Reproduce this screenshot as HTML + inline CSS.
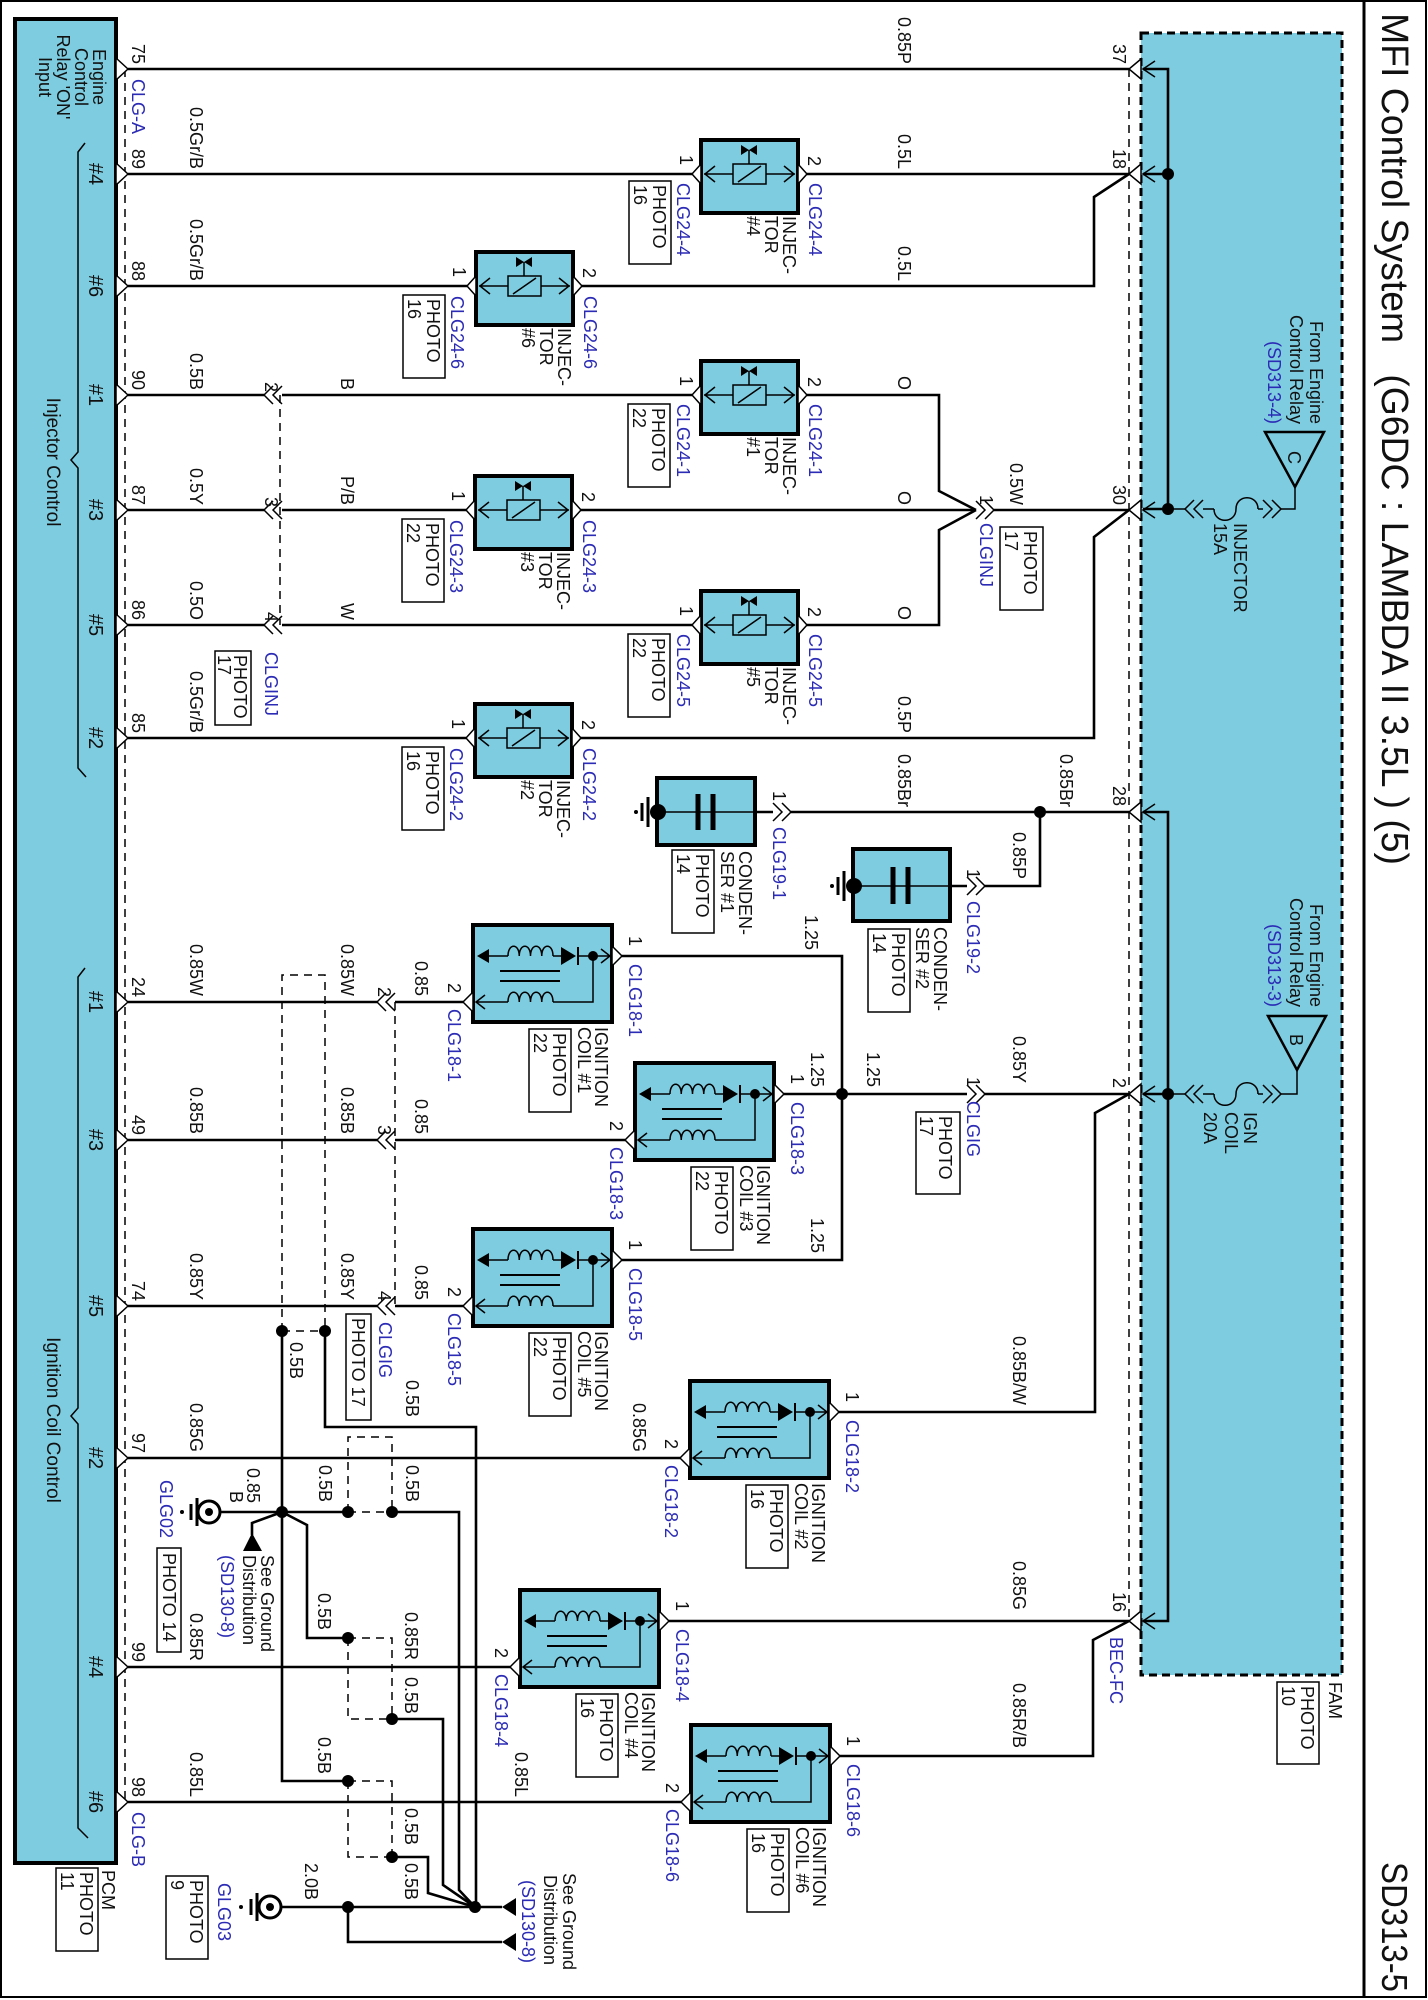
<!DOCTYPE html>
<html><head><meta charset="utf-8">
<style>
html,body{margin:0;padding:0;background:#fff;}
svg{display:block;}
text{font-family:"Liberation Sans",Arial,sans-serif;font-size:18px;fill:#111;}
.b{fill:#2b2bb5;}
.w{fill:none;stroke:#000;stroke-width:2.6;}
.t{fill:none;stroke:#000;stroke-width:1.5;}
.d{fill:none;stroke:#000;stroke-width:1.5;stroke-dasharray:8 6;}
.pin{fill:#fff;stroke:#000;stroke-width:1.5;}
.bx{fill:#fff;stroke:#000;stroke-width:1.5;}
</style></head><body>
<svg width="1428" height="2000" viewBox="0 0 1428 2000" xmlns="http://www.w3.org/2000/svg">
<defs>
<g id="inj">
<rect x="0" y="0" width="97" height="73" fill="#7ecce0" stroke="#000" stroke-width="4"/>
<polygon class="pin" points="0,24 -9,34 0,44"/>
<polygon class="pin" points="97,24 106,34 97,44"/>
<path class="t" d="M3,34H32M65,34H94M14,26L4,34L14,42M83,26L93,34L83,42"/>
<rect x="32" y="24" width="33" height="20" fill="none" stroke="#000" stroke-width="1.5"/>
<path class="t" d="M37,42L60,26M48,24V10"/>
<polygon points="40,5 48,10 40,15" fill="#000"/><polygon points="56,5 48,10 56,15" fill="#000"/>
</g>
<g id="coil">
<rect x="0" y="0" width="139" height="97" fill="#7ecce0" stroke="#000" stroke-width="4"/>
<polygon class="pin" points="0,67 -10,77 0,87"/>
<polygon class="pin" points="139,21 149,31 139,41"/>
<path class="t" d="M12,31H35M80,31H88M105,31H137M120,31V77H80M35,77H3M128,24L137,31L128,38M12,70L3,77L12,84"/>
<path class="t" d="M35,31c0-13 11.25-13 11.25,0c0-13 11.25-13 11.25,0c0-13 11.25-13 11.25,0c0-13 11.25-13 11.25,0"/>
<path class="t" d="M35,77c0-13 11.25-13 11.25,0c0-13 11.25-13 11.25,0c0-13 11.25-13 11.25,0c0-13 11.25-13 11.25,0"/>
<polygon points="4,31 16,24 16,38" fill="#000"/>
<polygon points="88,22 88,40 103,31" fill="#000"/>
<path d="M105,22V40" stroke="#000" stroke-width="2"/>
<circle cx="120" cy="31" r="5" fill="#000"/>
<path d="M27,46H87M27,56H87" stroke="#000" stroke-width="2"/>
</g>
<g id="fpin">
<polygon class="pin" points="1141,-10 1129,0 1141,10"/>
<path class="t" d="M1155,-8L1143,0L1155,8"/>
</g>
<g id="ppin"><polygon class="pin" points="116,-11 128,0 116,11"/></g>
<g id="dch"><path class="t" d="M9,-9L0,0L9,9M18,-9L9,0L18,9"/></g>
<g id="dchr"><path class="t" d="M0,-9L9,0L0,9M9,-9L18,0L9,9"/></g>
</defs>

<rect x="1" y="1" width="1425" height="1996" fill="none" stroke="#000" stroke-width="2"/>
<path d="M1364,1V1997" stroke="#000" stroke-width="3"/>

<rect x="1141" y="33" width="201" height="1642" fill="#7ecce0" stroke="#000" stroke-width="3" stroke-dasharray="8 5"/>
<rect x="15" y="19" width="101" height="1844" fill="#7ecce0" stroke="#000" stroke-width="4"/>
<path class="t" d="M85,143L78,152V452L71,460L78,468V768L86,777"/>
<path class="t" d="M85,968L78,977V1408L71,1416L78,1424V1828L88,1838"/>

<path class="d" d="M125,69V1802M1129,69V1621M280,395V625M395,1002V1306"/>

<path class="w" d="M128,69H1129"/>
<path class="w" d="M128,174H692M807,174H1129"/>
<path class="w" d="M128,286H467M581,286H1094V197L1129,174"/>
<path class="w" d="M128,395H264M282,395H692M807,395H939V491L976,510"/>
<path class="w" d="M128,510H264M282,510H466M580,510H976M994,510H1129"/>
<path class="w" d="M128,625H264M282,625H692M807,625H939V530L976,510"/>
<path class="w" d="M128,738H466M580,738H1094V537L1129,510"/>
<path class="w" d="M755,812H773M791,812H1129M950,886H967M985,886H1040V812"/>
<circle cx="1040" cy="812" r="6"/>
<path class="w" d="M128,1002H377M395,1002H463"/>
<path class="w" d="M128,1140H377M395,1140H625"/>
<path class="w" d="M128,1306H377M395,1306H463"/>
<path class="w" d="M128,1458H680"/>
<path class="w" d="M128,1667H510"/>
<path class="w" d="M128,1802H681"/>
<path class="w" d="M622,956H842V1260H622M784,1094H967M985,1094H1129"/>
<circle cx="842" cy="1094" r="6"/>
<path class="w" d="M839,1412H1095V1113L1129,1094"/>
<path class="w" d="M669,1621H1129"/>
<path class="w" d="M840,1756H1093V1640L1129,1621"/>

<path class="w" d="M1143,69H1168V509H1143M1143,174H1168"/>
<path class="w" d="M1143,812H1168V1621H1143M1143,1094H1168"/>
<circle cx="1168" cy="174" r="6"/><circle cx="1168" cy="509" r="6"/><circle cx="1168" cy="1094" r="6"/>
<use href="#fpin" y="69"/><use href="#fpin" y="174"/><use href="#fpin" y="510"/><use href="#fpin" y="812"/><use href="#fpin" y="1094"/><use href="#fpin" y="1621"/>
<polygon points="1265,432 1324,432 1295,487" fill="none" stroke="#000" stroke-width="2.5"/>
<path class="t" d="M1295,487V509H1281M1168,509H1185M1258,509C1258,494 1236,494 1236,509C1236,524 1214,524 1214,509"/>
<use href="#dch" x="1185" y="509"/><use href="#dchr" x="1263" y="509"/>
<path class="t" d="M1203,509H1214M1258,509H1263"/>
<polygon points="1268,1016 1326,1016 1297,1070" fill="none" stroke="#000" stroke-width="2.5"/>
<path class="t" d="M1297,1070V1094H1281M1168,1094H1185M1258,1094C1258,1079 1236,1079 1236,1094C1236,1109 1214,1109 1214,1094"/>
<use href="#dch" x="1185" y="1094"/><use href="#dchr" x="1263" y="1094"/>
<path class="t" d="M1203,1094H1214M1258,1094H1263"/>

<use href="#ppin" y="69"/><use href="#ppin" y="174"/><use href="#ppin" y="286"/><use href="#ppin" y="395"/><use href="#ppin" y="510"/><use href="#ppin" y="625"/><use href="#ppin" y="738"/>
<use href="#ppin" y="1002"/><use href="#ppin" y="1140"/><use href="#ppin" y="1306"/><use href="#ppin" y="1458"/><use href="#ppin" y="1667"/><use href="#ppin" y="1802"/>
<use href="#dch" x="264" y="395"/><use href="#dch" x="264" y="510"/><use href="#dch" x="264" y="625"/>
<use href="#dchr" x="976" y="510"/>
<use href="#dch" x="377" y="1002"/><use href="#dch" x="377" y="1140"/><use href="#dch" x="377" y="1306"/>
<use href="#dchr" x="967" y="1094"/>
<use href="#dchr" x="773" y="812"/><use href="#dchr" x="967" y="886"/>

<use href="#inj" x="701" y="140"/><use href="#inj" x="476" y="252"/><use href="#inj" x="701" y="361"/>
<use href="#inj" x="475" y="476"/><use href="#inj" x="701" y="591"/><use href="#inj" x="475" y="704"/>
<use href="#coil" x="473" y="925"/><use href="#coil" x="635" y="1063"/><use href="#coil" x="473" y="1229"/>
<use href="#coil" x="690" y="1381"/><use href="#coil" x="520" y="1590"/><use href="#coil" x="691" y="1725"/>

<rect x="657" y="778" width="98" height="67" fill="#7ecce0" stroke="#000" stroke-width="4"/>
<path class="t" d="M657,812H755"/><path d="M698,794V830M713,794V830" stroke="#000" stroke-width="5"/>
<circle cx="658" cy="812" r="8"/><path d="M648,797V827M642,803V821" stroke="#000" stroke-width="3"/><circle cx="636" cy="812" r="2"/>
<rect x="853" y="849" width="97" height="72" fill="#7ecce0" stroke="#000" stroke-width="4"/>
<path class="t" d="M853,886H950"/><path d="M893,867V904M908,867V904" stroke="#000" stroke-width="5"/>
<circle cx="854" cy="886" r="8"/><path d="M844,871V901M838,877V895" stroke="#000" stroke-width="3"/><circle cx="832" cy="886" r="2"/>

<path class="d" d="M282,1331V975H325V1331M282,1331H325"/>
<path class="d" d="M348,1512V1437H392V1512M348,1512H392"/>
<path class="d" d="M348,1638H392V1719M348,1638V1719H392"/>
<path class="d" d="M348,1781H392V1857M348,1781V1857H392"/>
<path class="w" d="M282,1331V1781H348M325,1331V1427H476V1907M220,1512H348M392,1512H459V1890L475,1907"/>
<path class="w" d="M282,1512L307,1525V1638H348M392,1719H443V1885L475,1907M392,1857H428V1893L475,1907"/>
<path class="w" d="M282,1512L252,1523V1535"/>
<polygon points="252,1533 243,1551 262,1551" fill="#000"/>
<path class="w" d="M282,1907H502M348,1907V1942H502"/>
<polygon points="502,1907 516,1898 516,1916" fill="#000"/>
<polygon points="502,1942 516,1933 516,1951" fill="#000"/>
<g fill="#000">
<circle cx="282" cy="1331" r="6"/><circle cx="325" cy="1331" r="6"/><circle cx="282" cy="1512" r="6"/><circle cx="348" cy="1512" r="6"/><circle cx="392" cy="1512" r="6"/>
<circle cx="348" cy="1638" r="6"/><circle cx="392" cy="1719" r="6"/><circle cx="348" cy="1781" r="6"/><circle cx="392" cy="1857" r="6"/><circle cx="475" cy="1907" r="6"/><circle cx="348" cy="1907" r="6"/>
</g>
<circle cx="209" cy="1512" r="11" fill="#fff" stroke="#000" stroke-width="3"/><circle cx="209" cy="1512" r="4"/>
<path d="M197,1498V1526M191,1504V1520" stroke="#000" stroke-width="3"/><circle cx="182" cy="1512" r="2"/>
<circle cx="270" cy="1907" r="11" fill="#fff" stroke="#000" stroke-width="3"/><circle cx="270" cy="1907" r="4"/>
<path d="M257,1893V1921M251,1899V1915" stroke="#000" stroke-width="3"/><circle cx="241" cy="1907" r="2"/>

<g>
<rect class="bx" x="629" y="181" width="42" height="83"/><rect class="bx" x="403" y="295" width="42" height="83"/>
<rect class="bx" x="628" y="404" width="42" height="83"/><rect class="bx" x="402" y="519" width="42" height="83"/>
<rect class="bx" x="628" y="634" width="42" height="83"/><rect class="bx" x="402" y="747" width="42" height="83"/>
<rect class="bx" x="215" y="651" width="36" height="74"/><rect class="bx" x="1000" y="527" width="43" height="83"/>
<rect class="bx" x="672" y="850" width="42" height="83"/><rect class="bx" x="868" y="929" width="42" height="83"/>
<rect class="bx" x="529" y="1029" width="42" height="83"/><rect class="bx" x="691" y="1167" width="42" height="83"/>
<rect class="bx" x="529" y="1333" width="42" height="83"/><rect class="bx" x="746" y="1485" width="42" height="83"/>
<rect class="bx" x="576" y="1694" width="42" height="83"/><rect class="bx" x="747" y="1829" width="42" height="83"/>
<rect class="bx" x="916" y="1112" width="44" height="82"/>
<rect class="bx" x="346" y="1314" width="25" height="106"/><rect class="bx" x="157" y="1548" width="24" height="104"/>
<rect class="bx" x="56" y="1868" width="42" height="83"/><rect class="bx" x="166" y="1876" width="42" height="83"/>
<rect class="bx" x="1277" y="1682" width="42" height="82"/>
</g>

<text x="1382" y="13" transform="rotate(90 1382 13)" style="font-size:38px" textLength="852" lengthAdjust="spacingAndGlyphs">MFI Control System&#160;&#160;&#160;(G6DC : LAMBDA II 3.5L ) (5)</text>
<text x="1382" y="1862" transform="rotate(90 1382 1862)" style="font-size:36px" textLength="130" lengthAdjust="spacingAndGlyphs">SD313-5</text>

<g text-anchor="middle">
<text x="93" y="77" transform="rotate(90 93 77)">Engine</text>
<text x="75" y="77" transform="rotate(90 75 77)">Control</text>
<text x="57" y="77" transform="rotate(90 57 77)">Relay 'ON'</text>
<text x="39" y="77" transform="rotate(90 39 77)">Input</text>
<text x="47" y="462" transform="rotate(90 47 462)" style="font-size:19px">Injector Control</text>
<text x="47" y="1420" transform="rotate(90 47 1420)" style="font-size:19px">Ignition Coil Control</text>
<text x="89" y="174" transform="rotate(90 89 174)" style="font-size:20px">#4</text>
<text x="89" y="286" transform="rotate(90 89 286)" style="font-size:20px">#6</text>
<text x="89" y="395" transform="rotate(90 89 395)" style="font-size:20px">#1</text>
<text x="89" y="510" transform="rotate(90 89 510)" style="font-size:20px">#3</text>
<text x="89" y="625" transform="rotate(90 89 625)" style="font-size:20px">#5</text>
<text x="89" y="738" transform="rotate(90 89 738)" style="font-size:20px">#2</text>
<text x="89" y="1002" transform="rotate(90 89 1002)" style="font-size:20px">#1</text>
<text x="89" y="1140" transform="rotate(90 89 1140)" style="font-size:20px">#3</text>
<text x="89" y="1306" transform="rotate(90 89 1306)" style="font-size:20px">#5</text>
<text x="89" y="1458" transform="rotate(90 89 1458)" style="font-size:20px">#2</text>
<text x="89" y="1667" transform="rotate(90 89 1667)" style="font-size:20px">#4</text>
<text x="89" y="1802" transform="rotate(90 89 1802)" style="font-size:20px">#6</text>
</g>

<g text-anchor="end">
<text x="132" y="64" transform="rotate(90 132 64)">75</text>
<text x="132" y="169" transform="rotate(90 132 169)">89</text>
<text x="132" y="281" transform="rotate(90 132 281)">88</text>
<text x="132" y="390" transform="rotate(90 132 390)">90</text>
<text x="132" y="505" transform="rotate(90 132 505)">87</text>
<text x="132" y="620" transform="rotate(90 132 620)">86</text>
<text x="132" y="733" transform="rotate(90 132 733)">85</text>
<text x="132" y="997" transform="rotate(90 132 997)">24</text>
<text x="132" y="1135" transform="rotate(90 132 1135)">49</text>
<text x="132" y="1301" transform="rotate(90 132 1301)">74</text>
<text x="132" y="1453" transform="rotate(90 132 1453)">97</text>
<text x="132" y="1662" transform="rotate(90 132 1662)">99</text>
<text x="132" y="1797" transform="rotate(90 132 1797)">98</text>

<text x="190" y="169" transform="rotate(90 190 169)">0.5Gr/B</text>
<text x="190" y="281" transform="rotate(90 190 281)">0.5Gr/B</text>
<text x="190" y="390" transform="rotate(90 190 390)">0.5B</text>
<text x="190" y="505" transform="rotate(90 190 505)">0.5Y</text>
<text x="190" y="620" transform="rotate(90 190 620)">0.5O</text>
<text x="190" y="733" transform="rotate(90 190 733)">0.5Gr/B</text>
<text x="190" y="996" transform="rotate(90 190 996)">0.85W</text>
<text x="190" y="1134" transform="rotate(90 190 1134)">0.85B</text>
<text x="190" y="1300" transform="rotate(90 190 1300)">0.85Y</text>
<text x="190" y="1452" transform="rotate(90 190 1452)">0.85G</text>
<text x="190" y="1661" transform="rotate(90 190 1661)">0.85R</text>
<text x="190" y="1797" transform="rotate(90 190 1797)">0.85L</text>

<text x="898" y="64" transform="rotate(90 898 64)">0.85P</text>
<text x="898" y="169" transform="rotate(90 898 169)">0.5L</text>
<text x="898" y="281" transform="rotate(90 898 281)">0.5L</text>
<text x="898" y="390" transform="rotate(90 898 390)">O</text>
<text x="898" y="505" transform="rotate(90 898 505)">O</text>
<text x="898" y="620" transform="rotate(90 898 620)">O</text>
<text x="898" y="733" transform="rotate(90 898 733)">0.5P</text>
<text x="898" y="807" transform="rotate(90 898 807)">0.85Br</text>
<text x="1060" y="807" transform="rotate(90 1060 807)">0.85Br</text>

<text x="341" y="390" transform="rotate(90 341 390)">B</text>
<text x="341" y="505" transform="rotate(90 341 505)">P/B</text>
<text x="341" y="620" transform="rotate(90 341 620)">W</text>
<text x="341" y="996" transform="rotate(90 341 996)">0.85W</text>
<text x="341" y="1134" transform="rotate(90 341 1134)">0.85B</text>
<text x="341" y="1300" transform="rotate(90 341 1300)">0.85Y</text>
<text x="265" y="392" transform="rotate(90 265 392)">2</text>
<text x="265" y="507" transform="rotate(90 265 507)">3</text>
<text x="265" y="622" transform="rotate(90 265 622)">4</text>
<text x="378" y="997" transform="rotate(90 378 997)">2</text>
<text x="378" y="1135" transform="rotate(90 378 1135)">3</text>
<text x="378" y="1301" transform="rotate(90 378 1301)">4</text>
<text x="415" y="996" transform="rotate(90 415 996)">0.85</text>
<text x="415" y="1134" transform="rotate(90 415 1134)">0.85</text>
<text x="415" y="1300" transform="rotate(90 415 1300)">0.85</text>

<text x="1010" y="505" transform="rotate(90 1010 505)">0.5W</text>
<text x="980" y="505" transform="rotate(90 980 505)">1</text>
<text x="1013" y="879" transform="rotate(90 1013 879)">0.85P</text>
<text x="1013" y="1083" transform="rotate(90 1013 1083)">0.85Y</text>
<text x="1013" y="1405" transform="rotate(90 1013 1405)">0.85B/W</text>
<text x="1013" y="1610" transform="rotate(90 1013 1610)">0.85G</text>
<text x="1013" y="1748" transform="rotate(90 1013 1748)">0.85R/B</text>
<text x="805" y="950" transform="rotate(90 805 950)">1.25</text>
<text x="811" y="1087" transform="rotate(90 811 1087)">1.25</text>
<text x="867" y="1087" transform="rotate(90 867 1087)">1.25</text>
<text x="811" y="1253" transform="rotate(90 811 1253)">1.25</text>
<text x="967" y="1087" transform="rotate(90 967 1087)">1</text>
<text x="773" y="801" transform="rotate(90 773 801)">1</text>
<text x="967" y="879" transform="rotate(90 967 879)">1</text>
<text x="633" y="1452" transform="rotate(90 633 1452)">0.85G</text>
<text x="515" y="1797" transform="rotate(90 515 1797)">0.85L</text>
<text x="405" y="1660" transform="rotate(90 405 1660)">0.85R</text>
<text x="247" y="1503" transform="rotate(90 247 1503)">0.85</text>
<text x="230" y="1503" transform="rotate(90 230 1503)">B</text>

<text x="1113" y="64" transform="rotate(90 1113 64)">37</text>
<text x="1113" y="169" transform="rotate(90 1113 169)">18</text>
<text x="1113" y="505" transform="rotate(90 1113 505)">30</text>
<text x="1113" y="806" transform="rotate(90 1113 806)">28</text>
<text x="1113" y="1088" transform="rotate(90 1113 1088)">2</text>
<text x="1113" y="1612" transform="rotate(90 1113 1612)">16</text>

<text x="1310" y="424" transform="rotate(90 1310 424)">From Engine</text>
<text x="1290" y="424" transform="rotate(90 1290 424)">Control Relay</text>
<text class="b" x="1268" y="424" transform="rotate(90 1268 424)">(SD313-4)</text>
<text x="1310" y="1007" transform="rotate(90 1310 1007)">From Engine</text>
<text x="1290" y="1007" transform="rotate(90 1290 1007)">Control Relay</text>
<text class="b" x="1268" y="1007" transform="rotate(90 1268 1007)">(SD313-3)</text>
</g>

<g>
<text x="1288" y="451" transform="rotate(90 1288 451)">C</text>
<text x="1290" y="1034" transform="rotate(90 1290 1034)">B</text>
<text x="1234" y="523" transform="rotate(90 1234 523)">INJECTOR</text>
<text x="1214" y="523" transform="rotate(90 1214 523)">15A</text>
<text x="1244" y="1112" transform="rotate(90 1244 1112)">IGN</text>
<text x="1225" y="1112" transform="rotate(90 1225 1112)">COIL</text>
<text x="1204" y="1112" transform="rotate(90 1204 1112)">20A</text>

<text class="b" x="132" y="79" transform="rotate(90 132 79)">CLG-A</text>
<text class="b" x="132" y="1812" transform="rotate(90 132 1812)">CLG-B</text>
<text class="b" x="265" y="652" transform="rotate(90 265 652)">CLGINJ</text>
<text class="b" x="980" y="523" transform="rotate(90 980 523)">CLGINJ</text>
<text class="b" x="379" y="1322" transform="rotate(90 379 1322)">CLGIG</text>
<text class="b" x="967" y="1101" transform="rotate(90 967 1101)">CLGIG</text>
<text class="b" x="773" y="827" transform="rotate(90 773 827)">CLG19-1</text>
<text class="b" x="967" y="901" transform="rotate(90 967 901)">CLG19-2</text>
<text class="b" x="160" y="1480" transform="rotate(90 160 1480)">GLG02</text>
<text class="b" x="218" y="1883" transform="rotate(90 218 1883)">GLG03</text>
<text class="b" x="1110" y="1637" transform="rotate(90 1110 1637)">BEC-FC</text>

<text x="680" y="155" transform="rotate(90 680 155)">1</text><text x="808" y="156" transform="rotate(90 808 156)">2</text>
<text class="b" x="677" y="183" transform="rotate(90 677 183)">CLG24-4</text><text class="b" x="809" y="183" transform="rotate(90 809 183)">CLG24-4</text>
<text x="783" y="216" transform="rotate(90 783 216)">INJEC-</text><text x="765" y="216" transform="rotate(90 765 216)">TOR</text><text x="747" y="216" transform="rotate(90 747 216)">#4</text>
<text x="653" y="185" transform="rotate(90 653 185)">PHOTO</text><text x="634" y="185" transform="rotate(90 634 185)">16</text>

<text x="453" y="267" transform="rotate(90 453 267)">1</text><text x="583" y="268" transform="rotate(90 583 268)">2</text>
<text class="b" x="451" y="296" transform="rotate(90 451 296)">CLG24-6</text><text class="b" x="584" y="296" transform="rotate(90 584 296)">CLG24-6</text>
<text x="558" y="328" transform="rotate(90 558 328)">INJEC-</text><text x="540" y="328" transform="rotate(90 540 328)">TOR</text><text x="522" y="328" transform="rotate(90 522 328)">#6</text>
<text x="427" y="299" transform="rotate(90 427 299)">PHOTO</text><text x="408" y="299" transform="rotate(90 408 299)">16</text>

<text x="680" y="376" transform="rotate(90 680 376)">1</text><text x="808" y="377" transform="rotate(90 808 377)">2</text>
<text class="b" x="677" y="404" transform="rotate(90 677 404)">CLG24-1</text><text class="b" x="809" y="404" transform="rotate(90 809 404)">CLG24-1</text>
<text x="783" y="437" transform="rotate(90 783 437)">INJEC-</text><text x="765" y="437" transform="rotate(90 765 437)">TOR</text><text x="747" y="437" transform="rotate(90 747 437)">#1</text>
<text x="652" y="408" transform="rotate(90 652 408)">PHOTO</text><text x="633" y="408" transform="rotate(90 633 408)">22</text>

<text x="452" y="491" transform="rotate(90 452 491)">1</text><text x="582" y="492" transform="rotate(90 582 492)">2</text>
<text class="b" x="450" y="520" transform="rotate(90 450 520)">CLG24-3</text><text class="b" x="583" y="520" transform="rotate(90 583 520)">CLG24-3</text>
<text x="557" y="552" transform="rotate(90 557 552)">INJEC-</text><text x="539" y="552" transform="rotate(90 539 552)">TOR</text><text x="521" y="552" transform="rotate(90 521 552)">#3</text>
<text x="426" y="523" transform="rotate(90 426 523)">PHOTO</text><text x="407" y="523" transform="rotate(90 407 523)">22</text>

<text x="680" y="606" transform="rotate(90 680 606)">1</text><text x="808" y="607" transform="rotate(90 808 607)">2</text>
<text class="b" x="677" y="634" transform="rotate(90 677 634)">CLG24-5</text><text class="b" x="809" y="634" transform="rotate(90 809 634)">CLG24-5</text>
<text x="783" y="667" transform="rotate(90 783 667)">INJEC-</text><text x="765" y="667" transform="rotate(90 765 667)">TOR</text><text x="747" y="667" transform="rotate(90 747 667)">#5</text>
<text x="652" y="638" transform="rotate(90 652 638)">PHOTO</text><text x="633" y="638" transform="rotate(90 633 638)">22</text>

<text x="452" y="719" transform="rotate(90 452 719)">1</text><text x="582" y="720" transform="rotate(90 582 720)">2</text>
<text class="b" x="450" y="748" transform="rotate(90 450 748)">CLG24-2</text><text class="b" x="583" y="748" transform="rotate(90 583 748)">CLG24-2</text>
<text x="557" y="780" transform="rotate(90 557 780)">INJEC-</text><text x="539" y="780" transform="rotate(90 539 780)">TOR</text><text x="521" y="780" transform="rotate(90 521 780)">#2</text>
<text x="426" y="751" transform="rotate(90 426 751)">PHOTO</text><text x="407" y="751" transform="rotate(90 407 751)">16</text>

<text x="739" y="851" transform="rotate(90 739 851)">CONDEN-</text><text x="721" y="851" transform="rotate(90 721 851)">SER #1</text>
<text x="696" y="854" transform="rotate(90 696 854)">PHOTO</text><text x="677" y="854" transform="rotate(90 677 854)">14</text>
<text x="934" y="927" transform="rotate(90 934 927)">CONDEN-</text><text x="916" y="927" transform="rotate(90 916 927)">SER #2</text>
<text x="892" y="933" transform="rotate(90 892 933)">PHOTO</text><text x="873" y="933" transform="rotate(90 873 933)">14</text>
<text x="1024" y="531" transform="rotate(90 1024 531)">PHOTO</text><text x="1005" y="531" transform="rotate(90 1005 531)">17</text>
<text x="939" y="1116" transform="rotate(90 939 1116)">PHOTO</text><text x="920" y="1116" transform="rotate(90 920 1116)">17</text>
<text x="234" y="655" transform="rotate(90 234 655)">PHOTO</text><text x="218" y="655" transform="rotate(90 218 655)">17</text>

<text x="448" y="983" transform="rotate(90 448 983)">2</text>
<text class="b" x="448" y="1009" transform="rotate(90 448 1009)">CLG18-1</text>
<text x="629" y="936" transform="rotate(90 629 936)">1</text>
<text class="b" x="629" y="964" transform="rotate(90 629 964)">CLG18-1</text>
<text x="595" y="1027" transform="rotate(90 595 1027)">IGNITION</text><text x="578" y="1027" transform="rotate(90 578 1027)">COIL #1</text>
<text x="553" y="1033" transform="rotate(90 553 1033)">PHOTO</text><text x="534" y="1033" transform="rotate(90 534 1033)">22</text>

<text x="610" y="1121" transform="rotate(90 610 1121)">2</text>
<text class="b" x="610" y="1147" transform="rotate(90 610 1147)">CLG18-3</text>
<text x="791" y="1074" transform="rotate(90 791 1074)">1</text>
<text class="b" x="791" y="1102" transform="rotate(90 791 1102)">CLG18-3</text>
<text x="757" y="1165" transform="rotate(90 757 1165)">IGNITION</text><text x="740" y="1165" transform="rotate(90 740 1165)">COIL #3</text>
<text x="715" y="1171" transform="rotate(90 715 1171)">PHOTO</text><text x="696" y="1171" transform="rotate(90 696 1171)">22</text>

<text x="448" y="1287" transform="rotate(90 448 1287)">2</text>
<text class="b" x="448" y="1313" transform="rotate(90 448 1313)">CLG18-5</text>
<text x="629" y="1240" transform="rotate(90 629 1240)">1</text>
<text class="b" x="629" y="1268" transform="rotate(90 629 1268)">CLG18-5</text>
<text x="595" y="1331" transform="rotate(90 595 1331)">IGNITION</text><text x="578" y="1331" transform="rotate(90 578 1331)">COIL #5</text>
<text x="553" y="1337" transform="rotate(90 553 1337)">PHOTO</text><text x="534" y="1337" transform="rotate(90 534 1337)">22</text>

<text x="665" y="1439" transform="rotate(90 665 1439)">2</text>
<text class="b" x="665" y="1465" transform="rotate(90 665 1465)">CLG18-2</text>
<text x="846" y="1392" transform="rotate(90 846 1392)">1</text>
<text class="b" x="846" y="1420" transform="rotate(90 846 1420)">CLG18-2</text>
<text x="812" y="1483" transform="rotate(90 812 1483)">IGNITION</text><text x="795" y="1483" transform="rotate(90 795 1483)">COIL #2</text>
<text x="770" y="1489" transform="rotate(90 770 1489)">PHOTO</text><text x="751" y="1489" transform="rotate(90 751 1489)">16</text>

<text x="495" y="1648" transform="rotate(90 495 1648)">2</text>
<text class="b" x="495" y="1674" transform="rotate(90 495 1674)">CLG18-4</text>
<text x="676" y="1601" transform="rotate(90 676 1601)">1</text>
<text class="b" x="676" y="1629" transform="rotate(90 676 1629)">CLG18-4</text>
<text x="642" y="1692" transform="rotate(90 642 1692)">IGNITION</text><text x="625" y="1692" transform="rotate(90 625 1692)">COIL #4</text>
<text x="600" y="1698" transform="rotate(90 600 1698)">PHOTO</text><text x="581" y="1698" transform="rotate(90 581 1698)">16</text>

<text x="666" y="1783" transform="rotate(90 666 1783)">2</text>
<text class="b" x="666" y="1809" transform="rotate(90 666 1809)">CLG18-6</text>
<text x="847" y="1736" transform="rotate(90 847 1736)">1</text>
<text class="b" x="847" y="1764" transform="rotate(90 847 1764)">CLG18-6</text>
<text x="813" y="1827" transform="rotate(90 813 1827)">IGNITION</text><text x="796" y="1827" transform="rotate(90 796 1827)">COIL #6</text>
<text x="771" y="1833" transform="rotate(90 771 1833)">PHOTO</text><text x="752" y="1833" transform="rotate(90 752 1833)">16</text>

<text x="352" y="1318" transform="rotate(90 352 1318)">PHOTO 17</text>
<text x="163" y="1553" transform="rotate(90 163 1553)">PHOTO 14</text>
<text x="290" y="1342" transform="rotate(90 290 1342)">0.5B</text>
<text x="406" y="1380" transform="rotate(90 406 1380)">0.5B</text>
<text x="319" y="1465" transform="rotate(90 319 1465)">0.5B</text>
<text x="406" y="1465" transform="rotate(90 406 1465)">0.5B</text>
<text x="318" y="1593" transform="rotate(90 318 1593)">0.5B</text>
<text x="318" y="1737" transform="rotate(90 318 1737)">0.5B</text>
<text x="405" y="1677" transform="rotate(90 405 1677)">0.5B</text>
<text x="405" y="1808" transform="rotate(90 405 1808)">0.5B</text>
<text x="405" y="1863" transform="rotate(90 405 1863)">0.5B</text>
<text x="305" y="1863" transform="rotate(90 305 1863)">2.0B</text>
<text x="261" y="1555" transform="rotate(90 261 1555)">See Ground</text>
<text x="243" y="1555" transform="rotate(90 243 1555)">Distribution</text>
<text class="b" x="221" y="1555" transform="rotate(90 221 1555)">(SD130-8)</text>
<text x="563" y="1873" transform="rotate(90 563 1873)">See Ground</text>
<text x="544" y="1875" transform="rotate(90 544 1875)">Distribution</text>
<text class="b" x="522" y="1880" transform="rotate(90 522 1880)">(SD130-8)</text>
<text x="102" y="1870" transform="rotate(90 102 1870)">PCM</text>
<text x="80" y="1872" transform="rotate(90 80 1872)">PHOTO</text><text x="61" y="1872" transform="rotate(90 61 1872)">11</text>
<text x="190" y="1880" transform="rotate(90 190 1880)">PHOTO</text><text x="171" y="1880" transform="rotate(90 171 1880)">9</text>
<text x="1329" y="1682" transform="rotate(90 1329 1682)">FAM</text>
<text x="1301" y="1686" transform="rotate(90 1301 1686)">PHOTO</text><text x="1282" y="1686" transform="rotate(90 1282 1686)">10</text>
</g>
</svg>
</body></html>
